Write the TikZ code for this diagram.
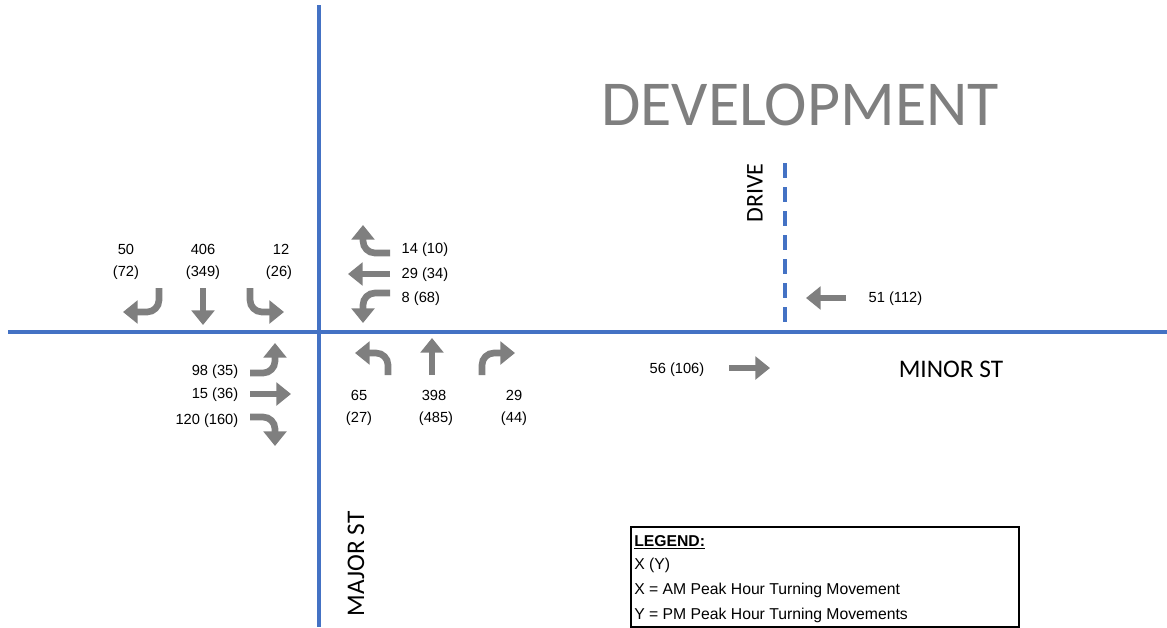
\documentclass[tikz,border=0pt]{standalone}
\usepackage{fontspec}
\setmainfont{Liberation Sans}
\newfontfamily\carl{Carlito}
\usetikzlibrary{arrows.meta}
\definecolor{roadblue}{RGB}{68,114,196}
\definecolor{arrowgray}{RGB}{127,127,127}

\begin{document}
\begin{tikzpicture}[
    x=0.75pt, y=-0.75pt,
    road/.style={draw=roadblue,line width=2.3pt},
    turn/.style={draw=arrowgray,line width=5pt,rounded corners=9pt,-{Triangle[width=17pt,length=11pt]}},
    vol/.style={font=\fontsize{11}{13}\selectfont},
    street/.style={font=\carl\fontsize{19}{23}\selectfont},
    legtext/.style={anchor=west,inner sep=0pt,font=\fontsize{11.8}{14}\selectfont}
]
\useasboundingbox (0,0) rectangle (1167,628);

% roads
\draw[road] (319,5) -- (319,627);
\draw[road] (8,332) -- (1167,332);
\draw[road,dash pattern=on 11pt off 7pt] (785,163) -- (785,332);

\node[font=\carl\fontsize{48}{56}\selectfont,text=arrowgray] (dev) at (800,105) {DEVELOPMENT};
\node[street] (minor) at (951,369) {MINOR ST};
\node[street,rotate=90] (major) at (356,564) {MAJOR ST};
\node[street,font=\carl\fontsize{18}{22}\selectfont,rotate=90] (drive) at (755,193) {DRIVE};

% southbound
\draw[turn] (159,288) |- (123,312);
\draw[turn] (203,288) -- (203,325);
\draw[turn] (250,288) |- (284,312);
\node[vol] (sbl) at (126,249) {50};
\node[vol] (sblp) at (126,273) {(72)};
\node[vol] (sbt) at (203,249) {406};
\node[vol] (sbtp) at (203,273) {(349)};
\node[vol] (sbr) at (281,249) {12};
\node[vol] (sbrp) at (279,273) {(26)};

% westbound
\draw[turn] (390,253) -| (363,225);
\draw[turn] (390,274) -- (348,274);
\draw[turn] (390,293) -| (363,323);
\node[vol,anchor=west] (wbr) at (397,250) {14 (10)};
\node[vol,anchor=west] (wbt) at (397,275) {29 (34)};
\node[vol,anchor=west] (wbl) at (397,299) {8 (68)};

% eastbound
\draw[turn] (250,373) -| (275,343);
\draw[turn] (250,394) -- (291,394);
\draw[turn] (250,417) -| (275,446);
\node[vol,anchor=east] (ebl) at (243,372) {98 (35)};
\node[vol,anchor=east] (ebt) at (243,395) {15 (36)};
\node[vol,anchor=east] (ebr) at (243,421) {120 (160)};

% northbound
\draw[turn] (388,375) |- (355,353);
\draw[turn] (432,375) -- (432,338);
\draw[turn] (482,375) |- (515,353);
\node[vol] (nbl) at (359,395) {65};
\node[vol] (nblp) at (359,419) {(27)};
\node[vol] (nbt) at (434,395) {398};
\node[vol] (nbtp) at (436,419) {(485)};
\node[vol] (nbr) at (514,395) {29};
\node[vol] (nbrp) at (514,419) {(44)};

% drive
\draw[turn] (846,298) -- (806,298);
\node[vol,anchor=west] (dwb) at (864,299) {51 (112)};
\draw[turn] (729,368) -- (770,368);
\node[vol,anchor=east] (deb) at (709,370) {56 (106)};

% legend
\draw[line width=2pt] (631,527) rectangle (1019,627);
\node[legtext] (leg) at (634,542) {\underline{\textbf{LEGEND:}}};
\node[legtext] (leg1) at (634,565) {X (Y)};
\node[legtext] (leg2) at (634,590) {X = AM Peak Hour Turning Movement};
\node[legtext] (leg3) at (634,615) {Y = PM Peak Hour Turning Movements};

\end{tikzpicture}
\end{document}
